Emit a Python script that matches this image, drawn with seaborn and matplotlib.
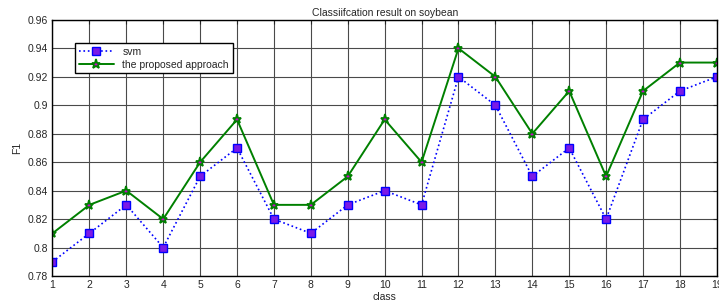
import pandas as pd
import matplotlib
matplotlib.use("Agg")
import matplotlib.pyplot as plt
import seaborn as sns

# F1 per class on soybean
classes = list(range(1, 20))
svm = [0.79, 0.81, 0.83, 0.80, 0.85, 0.87, 0.82, 0.81, 0.83, 0.84,
       0.83, 0.92, 0.90, 0.85, 0.87, 0.82, 0.89, 0.91, 0.92]
proposed = [0.81, 0.83, 0.84, 0.82, 0.86, 0.89, 0.83, 0.83, 0.85, 0.89,
            0.86, 0.94, 0.92, 0.88, 0.91, 0.85, 0.91, 0.93, 0.93]
yticks = [0.78, 0.8, 0.82, 0.84, 0.86, 0.88, 0.9, 0.92, 0.94, 0.96]
ytick_labels = ["0.78", "0.8", "0.82", "0.84", "0.86", "0.88", "0.9", "0.92", "0.94", "0.96"]

df = pd.DataFrame({"class": classes, "svm": svm, "proposed": proposed})

sns.set_style("white")
plt.rcParams['font.family'] = ['Liberation Sans', 'DejaVu Sans']

fig, ax = plt.subplots(figsize=(7.19, 3.01), dpi=100)
fig.subplots_adjust(left=0.073, right=0.997, top=0.934, bottom=0.083)

sns.lineplot(data=df, x="class", y="svm", ax=ax, color="blue", linestyle=":",
             linewidth=1.2, marker="s", markersize=5.5, markerfacecolor="#7a1ae6",
             markeredgecolor="blue", markeredgewidth=1.0, label="svm")
sns.lineplot(data=df, x="class", y="proposed", ax=ax, color="green", linestyle="-",
             linewidth=1.4, marker="*", markersize=6.5, markerfacecolor="#d000d0",
             markeredgecolor="green", markeredgewidth=1.3,
             label="the proposed approach")

ax.set_xlim(1, 19)
ax.set_ylim(0.78, 0.96)
ax.set_xticks(classes)
ax.set_yticks(yticks)
ax.set_yticklabels(ytick_labels)
ax.tick_params(direction="in", top=True, right=True, labelsize=7.5, length=3, pad=3)
ax.grid(True, color="#4a4a4a", linewidth=0.8)
for s in ax.spines.values():
    s.set_color("black")
    s.set_linewidth(1.0)

ax.set_title("Classiifcation result on soybean", fontsize=7.5, pad=3)
ax.set_xlabel("class", fontsize=7.5, labelpad=1)
ax.set_ylabel("F1", fontsize=7.5, labelpad=4)

leg = ax.legend(loc="upper left", bbox_to_anchor=(0.026, 0.93), fontsize=7.5,
                frameon=True, fancybox=False, edgecolor="black", framealpha=1,
                borderpad=0.35, handlelength=3.4, labelspacing=0.3)
leg.get_frame().set_linewidth(1.0)

fig.savefig("out.png", dpi=100)
